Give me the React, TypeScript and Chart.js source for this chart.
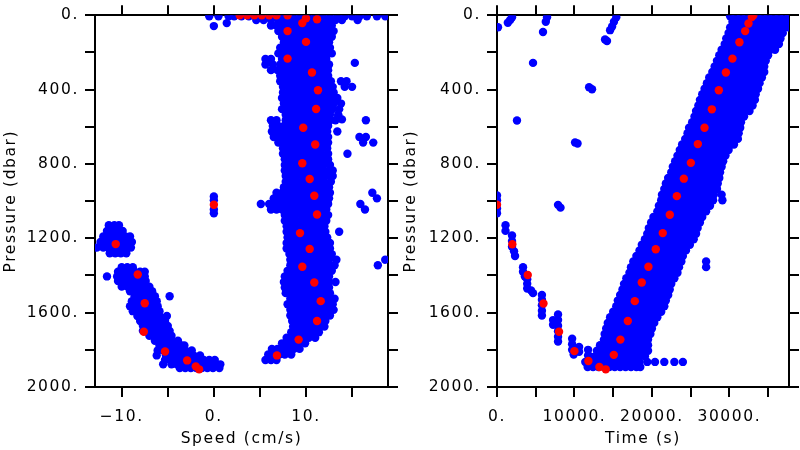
import { useEffect, useRef } from "react";
import { Chart, registerables } from "chart.js";

Chart.register(...registerables);

// ---------- axes ----------
const pressureRange = [0, 2000];
const pressureTicks = [0, 200, 400, 600, 800, 1000, 1200, 1400, 1600, 1800, 2000];
const pressureTickLabels = ["0.", "", "400.", "", "800.", "", "1200.", "", "1600.", "", "2000."];
const speedRange = [-12.9, 18.9];
const speedTicks = [-10, -5, 0, 5, 10, 15];
const speedTickLabels = ["\u221210.", "", "0.", "", "10.", ""];
const timeRange = [0, 37700];
const timeTicks = [0, 5000, 10000, 15000, 20000, 25000, 30000, 35000];
const timeTickLabels = ["0.", "", "10000.", "", "20000.", "", "30000.", ""];

// ---------- left panel: speed vs pressure ----------
// rows: [pressure, speed, speed, ...]
const speedBlueRows = [
  [5, -0.5, 0.5, 1.6, 2.2, 3.0, 3.8, 4.6, 5.4, 6.2, 7.0, 7.8, 8.6, 9.4, 10.2, 11.0, 11.8, 12.6, 13.4, 14.2, 15.0, 15.8, 16.6, 17.7, 18.6],
  [25, 4.6, 5.4, 6.2, 7.0, 7.8, 8.4, 9.0, 9.6, 10.2, 10.8, 11.4, 12.0, 12.6, 13.2, 13.9, 15.6],
  [55, 6.2, 6.8, 7.4, 8.0, 8.6, 9.2, 9.8, 10.4, 11.0, 11.6, 12.2, 12.8],
  [85, 7.0, 7.6, 8.2, 8.8, 9.4, 10.0, 10.6, 11.2, 11.8, 12.4, 13.0],
  [115, 7.4, 8.0, 8.6, 9.2, 9.8, 10.4, 11.0, 11.6, 12.2, 12.8],
  [145, 7.6, 8.2, 8.8, 9.4, 10.0, 10.6, 11.2, 11.8, 12.5],
  [175, 7.2, 7.8, 8.4, 9.0, 9.6, 10.2, 10.8, 11.4, 12.0, 12.6],
  [205, 7.0, 7.6, 8.2, 8.8, 9.4, 10.0, 10.6, 11.2, 11.8, 12.4, 12.8],
  [235, 5.6, 6.2, 7.4, 8.0, 8.6, 9.2, 9.8, 10.4, 11.0, 11.6, 12.2],
  [265, 5.6, 6.4, 7.2, 7.8, 8.4, 9.0, 9.6, 10.2, 10.8, 11.4, 12.0, 12.5],
  [295, 6.2, 6.9, 7.6, 8.2, 8.8, 9.4, 10.0, 10.6, 11.2, 11.8, 12.4],
  [325, 7.2, 7.8, 8.4, 9.0, 9.6, 10.2, 10.8, 11.4, 12.0, 12.4],
  [355, 7.2, 7.8, 8.4, 9.0, 9.6, 10.2, 10.8, 11.4, 12.0, 12.7, 13.8, 14.4],
  [385, 7.5, 8.1, 8.7, 9.3, 9.9, 10.5, 11.1, 11.7, 12.3, 12.9, 14.2, 15.0],
  [415, 7.5, 8.1, 8.7, 9.3, 9.9, 10.5, 11.1, 11.7, 12.3, 13.0],
  [445, 7.4, 8.0, 8.6, 9.2, 9.8, 10.4, 11.0, 11.6, 12.2, 12.8, 13.4],
  [475, 7.6, 8.2, 8.8, 9.4, 10.0, 10.6, 11.2, 11.8, 12.4, 13.0, 13.8],
  [505, 7.4, 8.0, 8.6, 9.2, 9.8, 10.4, 11.0, 11.6, 12.2, 12.9, 13.6],
  [535, 7.8, 8.4, 9.0, 9.6, 10.2, 10.8, 11.4, 12.0, 12.6, 13.5],
  [565, 6.2, 6.8, 7.8, 8.4, 9.0, 9.6, 10.2, 10.8, 11.4, 12.0, 12.6, 13.2, 16.5],
  [595, 6.4, 7.0, 7.6, 8.2, 8.8, 9.4, 10.0, 10.6, 11.2, 11.8, 12.4],
  [625, 6.3, 6.9, 7.5, 8.1, 8.7, 9.3, 9.9, 10.5, 11.1, 11.7, 12.3, 13.4],
  [655, 6.5, 7.1, 7.7, 8.3, 8.9, 9.5, 10.1, 10.7, 11.3, 11.9, 12.4, 15.8, 16.5],
  [685, 7.0, 7.6, 8.2, 8.8, 9.4, 10.0, 10.6, 11.2, 11.8, 12.4, 16.2, 17.3],
  [715, 7.5, 8.1, 8.7, 9.3, 9.9, 10.5, 11.1, 11.7, 12.3],
  [745, 7.5, 8.1, 8.7, 9.3, 9.9, 10.5, 11.1, 11.7, 12.4, 14.5],
  [775, 7.7, 8.3, 8.9, 9.5, 10.1, 10.7, 11.3, 11.9, 12.4],
  [805, 7.7, 8.3, 8.9, 9.5, 10.1, 10.7, 11.3, 11.9, 12.6],
  [835, 7.7, 8.3, 8.9, 9.5, 10.1, 10.7, 11.3, 11.9, 12.5, 12.9],
  [865, 7.8, 8.4, 9.0, 9.6, 10.2, 10.8, 11.4, 12.0, 12.6, 12.9],
  [895, 7.8, 8.4, 9.0, 9.6, 10.2, 10.8, 11.4, 12.0, 12.7],
  [925, 7.6, 8.2, 8.8, 9.4, 10.0, 10.6, 11.2, 11.8, 12.5],
  [955, 6.8, 7.4, 8.0, 8.6, 9.2, 9.8, 10.4, 11.0, 11.6, 12.2, 12.6, 17.2],
  [985, 6.5, 7.1, 7.7, 8.3, 8.9, 9.5, 10.1, 10.7, 11.3, 11.9, 12.5, 17.7],
  [1015, 5.1, 6.0, 6.6, 7.2, 7.8, 8.4, 9.0, 9.6, 10.2, 10.8, 11.4, 12.0, 12.4, 15.9],
  [1045, 6.2, 6.8, 7.4, 8.0, 8.6, 9.2, 9.8, 10.4, 11.0, 11.6, 12.2, 16.4],
  [1075, 7.7, 8.3, 8.9, 9.5, 10.1, 10.7, 11.3, 11.9, 12.4],
  [1105, 7.7, 8.3, 8.9, 9.5, 10.1, 10.7, 11.3, 11.9, 12.2],
  [1135, 7.9, 8.5, 9.1, 9.7, 10.3, 10.9, 11.5, 12.0],
  [1165, 7.9, 8.5, 9.1, 9.7, 10.3, 10.9, 11.5, 12.1, 13.6],
  [1195, 8.0, 8.6, 9.2, 9.8, 10.4, 11.0, 11.6, 12.3],
  [1225, 7.9, 8.5, 9.1, 9.7, 10.3, 10.9, 11.5, 12.1, 12.6],
  [1255, 7.9, 8.5, 9.1, 9.7, 10.3, 10.9, 11.5, 12.1, 12.6],
  [1285, 8.2, 8.8, 9.4, 10.0, 10.6, 11.2, 11.8, 12.4, 12.8],
  [1315, 8.3, 8.9, 9.5, 10.1, 10.7, 11.3, 11.9, 12.5, 13.3, 18.6],
  [1345, 8.3, 8.9, 9.5, 10.1, 10.7, 11.3, 11.9, 12.5, 13.1, 17.8],
  [1375, 8.0, 8.6, 9.2, 9.8, 10.4, 11.0, 11.6, 12.2, 12.8],
  [1405, 7.7, 8.3, 8.9, 9.5, 10.1, 10.7, 11.3, 11.9, 12.5],
  [1435, 7.6, 8.2, 8.8, 9.4, 10.0, 10.6, 11.2, 11.8, 12.5, 13.2],
  [1465, 7.7, 8.3, 8.9, 9.5, 10.1, 10.7, 11.3, 11.9, 12.5],
  [1495, 7.8, 8.4, 9.0, 9.6, 10.2, 10.8, 11.4, 12.0, 12.6],
  [1525, 8.3, 8.9, 9.5, 10.1, 10.7, 11.3, 11.9, 12.5, 13.1],
  [1555, 8.0, 8.6, 9.2, 9.8, 10.4, 11.0, 11.6, 12.2, 12.9],
  [1585, 8.3, 8.9, 9.5, 10.1, 10.7, 11.3, 11.9, 12.5, 13.0],
  [1615, 8.3, 8.9, 9.5, 10.1, 10.7, 11.3, 11.9, 12.6],
  [1645, 8.5, 9.1, 9.7, 10.3, 10.9, 11.5, 12.1],
  [1675, 8.6, 9.2, 9.8, 10.4, 11.0, 11.6, 12.0],
  [1705, 8.4, 9.0, 9.6, 10.2, 10.8, 11.4],
  [1735, 7.9, 8.5, 9.1, 9.7, 10.3, 11.0],
  [1765, 7.4, 8.0, 8.6, 9.2, 9.9],
  [1795, 6.3, 6.9, 7.5, 8.1, 8.7, 9.3],
  [1825, 5.9, 6.5, 7.1, 7.7, 8.4],
  [1855, 5.6, 6.2, 6.8],
  // negative-speed arc
  [1130, -11.4, -10.8, -10.3],
  [1160, -11.6, -11.0, -10.4, -9.9],
  [1190, -12.0, -11.4, -10.8, -10.2, -9.6, -9.1],
  [1220, -12.3, -11.7, -11.1, -10.5, -9.9, -9.3, -8.9],
  [1250, -12.7, -12.0, -11.4, -10.8, -10.2, -9.6, -9.0],
  [1280, -11.3, -10.7, -10.1, -9.5],
  [1355, -10.0, -9.4, -8.8],
  [1380, -10.4, -9.8, -9.2, -8.6, -8.0, -7.5],
  [1405, -11.6, -10.5, -9.9, -9.3, -8.7, -8.1, -7.5],
  [1430, -10.4, -9.8, -9.2, -8.6, -8.0, -7.4],
  [1460, -10.0, -9.4, -8.8, -8.2, -7.6, -7.0],
  [1485, -9.1, -8.5, -7.9, -7.3, -6.7],
  [1512, -8.6, -8.0, -7.4, -6.8, -6.4, -4.8],
  [1538, -8.9, -8.3, -7.7, -7.1, -6.5, -6.2],
  [1565, -9.1, -8.5, -7.9, -7.3, -6.7, -6.1],
  [1592, -8.8, -8.2, -7.6, -7.0, -6.4, -5.9],
  [1618, -8.3, -7.7, -7.1, -6.5, -5.9, -5.1],
  [1645, -8.0, -7.4, -6.8, -6.2, -5.6, -5.3],
  [1671, -7.7, -7.1, -6.5, -5.9, -5.3, -5.0],
  [1698, -7.7, -7.1, -6.5, -5.9, -5.3, -4.8],
  [1724, -7.0, -6.4, -5.8, -5.2, -4.6],
  [1751, -6.4, -5.8, -5.2, -4.6, -3.9],
  [1777, -5.9, -5.3, -4.7, -4.1, -3.5, -3.2],
  [1804, -6.1, -5.5, -4.9, -4.3, -3.7, -3.1, -2.4],
  [1830, -6.2, -5.2, -4.6, -4.0, -3.4, -2.8, -2.2, -1.5],
  [1855, -5.3, -4.7, -4.1, -3.5, -2.9, -2.3, -1.7, -1.1, -0.5, 0.1],
  [1878, -5.5, -4.6, -4.0, -3.4, -2.8, -2.2, -1.6, -1.0, -0.4, 0.2, 0.7],
  [1898, -3.7, -3.1, -2.5, -1.9, -1.3, -0.7, -0.1, 0.6],
];
// single points: [speed, pressure]
const speedBlueSingles = [
  [0, 58], [1.4, 42], [15.3, 256], [13.5, 540], [13.9, 560],
  [0, 975], [0, 995], [0, 1045], [0, 1065],
];
const speedRed = [
  [2.8, 0], [3.6, 0], [4.4, 0], [5.2, 0], [6.0, 0], [6.8, 0], [8.0, 0], [10.0, 16], [11.2, 21],
  [9.6, 42], [8.0, 85], [10.0, 143], [8.0, 233], [10.65, 308], [11.3, 403], [11.1, 504],
  [9.7, 605], [11.0, 695], [9.6, 796], [10.4, 881], [10.9, 971], [11.2, 1072], [9.35, 1172],
  [10.4, 1257], [9.6, 1353], [10.9, 1438], [11.6, 1538], [11.2, 1645], [9.2, 1745], [6.85, 1830],
  [0, 1019], [-10.65, 1231], [-8.26, 1395], [-7.5, 1549], [-7.6, 1703], [-5.3, 1809],
  [-2.9, 1857], [-1.96, 1889], [-1.6, 1905],
];

// ---------- right panel: time vs pressure ----------
// rows: [pressure, time, time, ...]
const timeBlueRows = [
  [5, 30100, 30800, 31500, 32200, 32900, 33600, 34300, 35000, 35700, 36400, 37100, 37700],
  [35, 30400, 31100, 31800, 32500, 33200, 33900, 34600, 35300, 36000, 36700, 37400],
  [65, 30100, 30800, 31500, 32200, 32900, 33600, 34300, 35000, 35700, 36400, 37100, 37600],
  [95, 29900, 30600, 31300, 32000, 32700, 33400, 34100, 34800, 35500, 36200, 36900],
  [125, 29600, 30300, 31000, 31700, 32400, 33100, 33800, 34500, 35200, 35900, 36600],
  [155, 29400, 30100, 30800, 31500, 32200, 32900, 33600, 34300, 35000, 35700, 36400],
  [185, 29000, 29700, 30400, 31100, 31800, 32500, 33200, 33900, 34600, 35300, 35900],
  [215, 28700, 29400, 30100, 30800, 31500, 32200, 32900, 33600, 34300, 35000],
  [245, 28400, 29100, 29800, 30500, 31200, 31900, 32600, 33300, 34000, 34700],
  [275, 28100, 28800, 29500, 30200, 30900, 31600, 32300, 33000, 33700, 34500],
  [305, 27800, 28500, 29200, 29900, 30600, 31300, 32000, 32700, 33400, 34100, 34500],
  [335, 27400, 28100, 28800, 29500, 30200, 30900, 31600, 32300, 33000, 33700, 34200],
  [365, 27100, 27800, 28500, 29200, 29900, 30600, 31300, 32000, 32700, 33400, 33900],
  [395, 26800, 27500, 28200, 28900, 29600, 30300, 31000, 31700, 32400, 33100, 33700],
  [425, 26500, 27200, 27900, 28600, 29300, 30000, 30700, 31400, 32100, 32800, 33400],
  [455, 26200, 26900, 27600, 28300, 29000, 29700, 30400, 31100, 31800, 32500, 33300],
  [485, 26000, 26700, 27400, 28100, 28800, 29500, 30200, 30900, 31600, 32300, 33000],
  [515, 25700, 26400, 27100, 27800, 28500, 29200, 29900, 30600, 31300, 32000, 32600],
  [545, 25500, 26200, 26900, 27600, 28300, 29000, 29700, 30400, 31100, 31900],
  [575, 25200, 25900, 26600, 27300, 28000, 28700, 29400, 30100, 30800, 31500],
  [605, 24800, 25500, 26200, 26900, 27600, 28300, 29000, 29700, 30400, 31100, 31400],
  [635, 24600, 25300, 26000, 26700, 27400, 28100, 28800, 29500, 30200, 30900, 31200],
  [665, 24300, 25000, 25700, 26400, 27100, 27800, 28500, 29200, 29900, 30600, 31100],
  [695, 23900, 24600, 25300, 26000, 26700, 27400, 28100, 28800, 29500, 30200, 30600],
  [725, 23600, 24300, 25000, 25700, 26400, 27100, 27800, 28500, 29200, 29900],
  [755, 23300, 24000, 24700, 25400, 26100, 26800, 27500, 28200, 28900, 29500],
  [785, 23000, 23700, 24400, 25100, 25800, 26500, 27200, 27900, 28600, 29200],
  [815, 22700, 23400, 24100, 24800, 25500, 26200, 26900, 27600, 28300, 29000],
  [845, 22500, 23200, 23900, 24600, 25300, 26000, 26700, 27400, 28100, 28800],
  [875, 22100, 22800, 23500, 24200, 24900, 25600, 26300, 27000, 27700, 28400, 28700],
  [905, 21800, 22500, 23200, 23900, 24600, 25300, 26000, 26700, 27400, 28100, 28500],
  [935, 21600, 22300, 23000, 23700, 24400, 25100, 25800, 26500, 27200, 27900, 28400],
  [965, 21300, 22000, 22700, 23400, 24100, 24800, 25500, 26200, 26900, 27600, 28000, 29000],
  [995, 21200, 21900, 22600, 23300, 24000, 24700, 25400, 26100, 26800, 27500, 27900, 29100],
  [1025, 20900, 21600, 22300, 23000, 23700, 24400, 25100, 25800, 26500, 27200, 27500],
  [1055, 20700, 21400, 22100, 22800, 23500, 24200, 24900, 25600, 26300, 27000],
  [1085, 20200, 20900, 21600, 22300, 23000, 23700, 24400, 25100, 25800, 26500],
  [1115, 19900, 20600, 21300, 22000, 22700, 23400, 24100, 24800, 25500, 26200],
  [1145, 19600, 20300, 21000, 21700, 22400, 23100, 23800, 24500, 25200, 25900],
  [1175, 19400, 20100, 20800, 21500, 22200, 22900, 23600, 24300, 25000, 25700],
  [1205, 19100, 19800, 20500, 21200, 21900, 22600, 23300, 24000, 24700, 25400],
  [1235, 18700, 19400, 20100, 20800, 21500, 22200, 22900, 23600, 24300, 24900],
  [1265, 18400, 19100, 19800, 20500, 21200, 21900, 22600, 23300, 24000, 24400],
  [1295, 18000, 18700, 19400, 20100, 20800, 21500, 22200, 22900, 23600, 24000],
  [1325, 17600, 18300, 19000, 19700, 20400, 21100, 21800, 22500, 23200, 23800, 27000],
  [1355, 17300, 18000, 18700, 19400, 20100, 20800, 21500, 22200, 22900, 23500, 27000],
  [1385, 17100, 17800, 18500, 19200, 19900, 20600, 21300, 22000, 22700, 23300],
  [1415, 16700, 17400, 18100, 18800, 19500, 20200, 20900, 21600, 22300, 22900],
  [1445, 16400, 17100, 17800, 18500, 19200, 19900, 20600, 21300, 22000, 22500],
  [1475, 16200, 16900, 17600, 18300, 19000, 19700, 20400, 21100, 21800, 22300],
  [1505, 15900, 16600, 17300, 18000, 18700, 19400, 20100, 20800, 21500, 22100],
  [1535, 15600, 16300, 17000, 17700, 18400, 19100, 19800, 20500, 21200, 21800],
  [1565, 15400, 16100, 16800, 17500, 18200, 18900, 19600, 20300, 21000, 21600],
  [1595, 15000, 15700, 16400, 17100, 17800, 18500, 19200, 19900, 20600, 21200],
  [1625, 14600, 15300, 16000, 16700, 17400, 18100, 18800, 19500, 20200, 20700],
  [1655, 14300, 15000, 15700, 16400, 17100, 17800, 18500, 19200, 19900, 20300],
  [1685, 14100, 14800, 15500, 16200, 16900, 17600, 18300, 19000, 19700, 20000],
  [1715, 13900, 14600, 15300, 16000, 16700, 17400, 18100, 18800, 19500, 19800],
  [1745, 13800, 14500, 15200, 15900, 16600, 17300, 18000, 18700, 19500],
  [1775, 13300, 14000, 14700, 15400, 16100, 16800, 17500, 18200, 18900, 19500],
  [1805, 12900, 13600, 14300, 15000, 15700, 16400, 17100, 17800, 18500, 19200, 19500],
  [1835, 12000, 12700, 13400, 14100, 14800, 15500, 16200, 16900, 17600, 18300, 19100],
  [1865, 11400, 12100, 12800, 13500, 14200, 14900, 15600, 16300, 17000, 17700, 18400, 19400, 20400, 21600, 22900, 24000],
  [1892, 11700, 12400, 13100, 13800, 14500, 15200, 15900, 16600, 17300, 18000, 18500],
];
// single points: [time, pressure]
const timeBlueSingles = [
  [0, 970], [0, 995], [0, 1040], [0, 1065], [1100, 1130], [1100, 1160], [1940, 1185], [1940, 1215],
  [1940, 1245], [2200, 1270], [2330, 1295], [3360, 1355], [3360, 1380], [3600, 1405], [3900, 1420],
  [3900, 1445], [3900, 1470], [4400, 1480], [4650, 1495], [5800, 1505], [5800, 1530], [5800, 1560],
  [5800, 1590], [5800, 1615], [7240, 1640], [7240, 1665], [7880, 1610], [7880, 1640], [7880, 1670],
  [7880, 1700], [7880, 1730], [7880, 1755], [9700, 1740], [9700, 1770], [9700, 1800], [9900, 1825],
  [10600, 1785], [10600, 1810], [11760, 1800], [11760, 1830], [11760, 1860], [11760, 1885],
  [130, 64], [1400, 40], [1700, 25], [1940, 10], [5940, 90], [6300, 35], [6460, 10], [4650, 256],
  [2580, 566], [11890, 387], [12270, 398], [10080, 684], [10400, 690], [7880, 1020], [8200, 1035],
  [13950, 130], [14200, 138], [14600, 80], [14860, 60], [15100, 35], [15400, 10],
];
const timeRed = [
  [33100, 0], [32900, 9], [32470, 44], [32040, 85], [31300, 145], [30400, 233], [29550, 308],
  [28640, 403], [27740, 506], [26790, 605], [25930, 693], [25030, 794], [24120, 879], [23220, 973],
  [22310, 1073], [21400, 1172], [20500, 1259], [19550, 1353], [18690, 1438], [17790, 1538],
  [16890, 1645], [15930, 1745], [15080, 1827], [14040, 1905], [13220, 1892], [11800, 1860],
  [9990, 1807], [8010, 1703], [6000, 1551], [3970, 1397], [1980, 1232], [0, 1019],
];

// ---------- helpers ----------
const FONT = { family: "'DejaVu Sans', sans-serif", size: 15.5, lineHeight: 1.2 };
const BLUE = "#0000ff";
const RED = "#ff0000";

function rowsToPoints(rows: number[][]) {
  return rows.flatMap(([y, ...xs]) => xs.map((x) => ({ x, y })));
}
function pairsToPoints(pairs: number[][]) {
  return pairs.map(([x, y]) => ({ x, y }));
}

const letterSpacingPlugin = {
  id: "letterSpacing",
  beforeDraw(chart: any) {
    chart.ctx.letterSpacing = "1.6px";
  },
};

function makeAxis(o: any) {
  const horizontal = o.position === "top" || o.position === "bottom";
  return {
    type: "linear",
    position: o.position,
    min: o.range[0],
    max: o.range[1],
    reverse: !!o.reverse,
    afterBuildTicks: (axis: any) => {
      axis.ticks = o.ticks.map((value: number) => ({ value }));
    },
    afterFit: (axis: any) => {
      if (horizontal) axis.height = o.size;
      else axis.width = o.size;
    },
    ticks: {
      display: !!o.show,
      autoSkip: false,
      maxRotation: 0,
      minRotation: 0,
      includeBounds: false,
      padding: o.tickPad ?? 0,
      color: "#000",
      font: FONT,
      callback: (_v: any, i: number) => o.labels[i] ?? "",
    },
    grid: {
      display: true,
      drawOnChartArea: false,
      drawTicks: true,
      tickLength: 10,
      tickWidth: 2,
      tickColor: "#000",
      color: "#000",
      lineWidth: 2,
    },
    border: { display: true, color: "#000", width: 2 },
    title: o.title
      ? { display: true, text: o.title, color: "#000", font: FONT, padding: o.titlePad }
      : { display: false },
  };
}

function buildConfig(p: any) {
  return {
    type: "scatter",
    data: {
      datasets: [
        {
          data: p.red,
          pointRadius: 4.2,
          pointBorderWidth: 0,
          pointBackgroundColor: RED,
          backgroundColor: RED,
          borderColor: RED,
          clip: 0,
        },
        {
          data: p.blue,
          pointRadius: 4.2,
          pointBorderWidth: 0,
          pointBackgroundColor: BLUE,
          backgroundColor: BLUE,
          borderColor: BLUE,
          clip: 0,
        },
      ],
    },
    options: {
      animation: false,
      responsive: false,
      maintainAspectRatio: false,
      events: [],
      layout: { padding: 0 },
      plugins: { legend: { display: false }, tooltip: { enabled: false }, title: { display: false } },
      scales: {
        x: makeAxis({
          position: "bottom", range: p.xRange, ticks: p.xTicks, labels: p.xLabels, size: 63,
          show: true, tickPad: 11, title: p.xTitle, titlePad: { top: 0, bottom: 2 },
        }),
        x2: makeAxis({ position: "top", range: p.xRange, ticks: p.xTicks, labels: [], size: 10 }),
        y: makeAxis({
          position: "left", range: pressureRange, reverse: true, ticks: pressureTicks,
          labels: pressureTickLabels, size: p.yWidth, show: true, tickPad: 6,
          title: "Pressure (dbar)", titlePad: { top: 2, bottom: 0 },
        }),
        y2: makeAxis({
          position: "right", range: pressureRange, reverse: true, ticks: pressureTicks,
          labels: [], size: p.y2Width,
        }),
      },
    },
    plugins: [letterSpacingPlugin],
  };
}

export default function App() {
  const leftRef = useRef<HTMLCanvasElement>(null);
  const rightRef = useRef<HTMLCanvasElement>(null);

  useEffect(() => {
    const left = new Chart(
      leftRef.current as HTMLCanvasElement,
      buildConfig({
        red: pairsToPoints(speedRed),
        blue: [...rowsToPoints(speedBlueRows), ...pairsToPoints(speedBlueSingles)],
        xRange: speedRange,
        xTicks: speedTicks,
        xLabels: speedTickLabels,
        xTitle: "Speed (cm/s)",
        yWidth: 95,
        y2Width: 12,
      }) as any
    );
    const right = new Chart(
      rightRef.current as HTMLCanvasElement,
      buildConfig({
        red: pairsToPoints(timeRed),
        blue: [...rowsToPoints(timeBlueRows), ...pairsToPoints(timeBlueSingles)],
        xRange: timeRange,
        xTicks: timeTicks,
        xLabels: timeTickLabels,
        xTitle: "Time (s)",
        yWidth: 97,
        y2Width: 11,
      }) as any
    );
    return () => {
      left.destroy();
      right.destroy();
    };
  }, []);

  return (
    <div style={{ position: "absolute", left: 0, top: 0, width: 800, height: 450, background: "#fff" }}>
      <canvas ref={leftRef} width={400} height={450} style={{ position: "absolute", left: 0, top: 0 }} />
      <canvas ref={rightRef} width={400} height={450} style={{ position: "absolute", left: 400, top: 0 }} />
    </div>
  );
}
